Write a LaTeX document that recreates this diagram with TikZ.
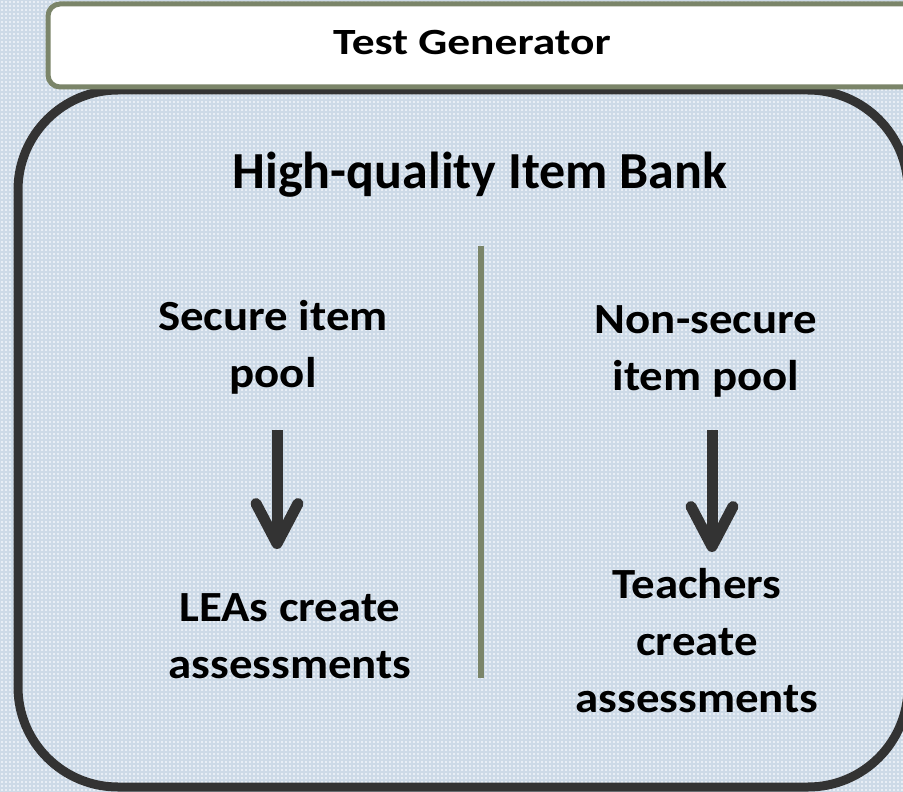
\documentclass[tikz,border=0pt]{standalone}
\usepackage{fontspec}
\setmainfont{Carlito}
\newfontfamily\widemain{Carlito}[FakeStretch=1.09]
\newfontfamily\widetitle{Carlito}[FakeStretch=1.23]
\usetikzlibrary{arrows.meta}
\definecolor{bgA}{RGB}{232,238,245}
\definecolor{bgB}{RGB}{205,218,231}
\definecolor{boxdark}{RGB}{51,51,51}
\definecolor{sage}{RGB}{123,133,105}
\tikzset{
  bigtext/.style={font=\widemain\fontsize{43}{57}\selectfont\bfseries, align=center, text=black, inner sep=0pt, anchor=base},
  banktext/.style={font=\fontsize{52}{60}\selectfont\bfseries, text=black, inner sep=0pt, anchor=base},
  titletext/.style={font=\widetitle\fontsize{37}{45}\selectfont\bfseries, text=black, inner sep=0pt, anchor=base},
  bigarrow/.style={draw=boxdark, line width=11pt, -{Straight Barb[length=40pt 0, width=42pt 0, round]}},
}
\begin{document}
\begin{tikzpicture}[x=1pt,y=-1pt]
\useasboundingbox (0,0) rectangle (903,792);
\fill[bgA] (0,0) rectangle (903,792);
\draw[bgB, line width=1.6pt, step=4pt] (0,0) grid (903,792);
% big box
\draw[boxdark, line width=9pt, rounded corners=100pt] (18,90) rectangle (908,787);
% title box
\draw[sage, fill=white, line width=5pt, rounded corners=12pt] (48,4) rectangle (930,87);
\node[titletext] (title) at (472,55) {Test Generator};
\node[banktext] (bank) at (480,188) {High-quality Item Bank};
\draw[sage, line width=6pt] (481,246) -- (481,678);
\node[bigtext] (secure) at (273,387) {Secure item\\pool};
\node[bigtext] (leas) at (290,678) {LEAs create\\assessments};
\node[bigtext] (nonsecure) at (706,390) {Non-secure\\item pool};
\node[bigtext] (teachers) at (697,712) {Teachers\\create\\assessments};
\draw[bigarrow] ([yshift=-43pt]secure.base -| 277,0) -- ([yshift=129pt]leas.base -| 277,0);
\draw[bigarrow] ([yshift=-40pt]nonsecure.base -| 712,0) -- ([yshift=160pt]teachers.base -| 712,0);
\end{tikzpicture}
\end{document}
